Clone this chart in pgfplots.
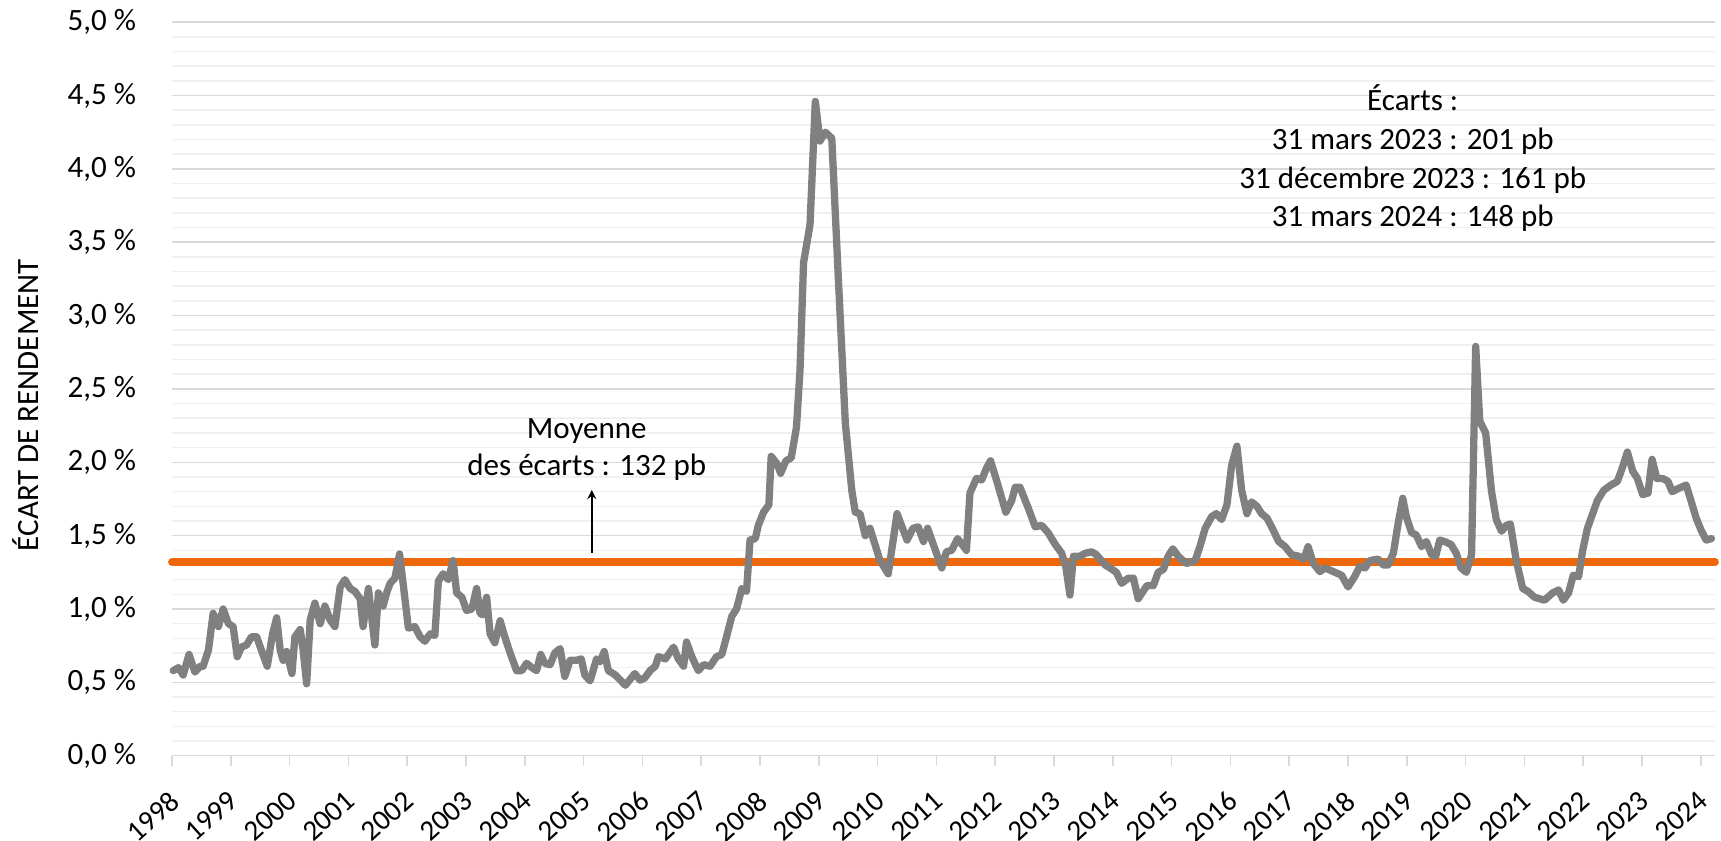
\documentclass[border=0pt]{standalone}
\usepackage{fontspec}
\setmainfont{Carlito}
\usepackage{pgfplots}
\pgfplotsset{compat=1.18}
\definecolor{seriesgray}{RGB}{128,128,128}
\definecolor{avgorange}{RGB}{236,104,10}
\definecolor{majgrid}{RGB}{217,217,217}
\definecolor{mingrid}{RGB}{240,240,240}
\begin{document}
\begin{tikzpicture}
\path[use as bounding box] (-86pt,-42.65pt) rectangle (774.5pt,377.85pt);
\begin{axis}[
  at={(0,0)}, anchor=south west,
  scale only axis,
  width=771.5pt, height=366.75pt,
  xmin=1998, xmax=2024.24,
  ymin=0, ymax=5,
  clip=false,
  axis x line*=bottom, axis y line*=left,
  x axis line style={draw=majgrid, line width=0.8pt, -},
  y axis line style={draw=none},
  xtick={1998,1999,...,2024},
  ytick={0,0.5,...,5},
  minor y tick num=4,
  ymajorgrids, yminorgrids,
  major grid style={draw=majgrid, line width=0.8pt},
  minor grid style={draw=mingrid, line width=0.8pt},
  xtick style={draw=majgrid, line width=0.8pt},
  ytick style={draw=none},
  minor y tick style={draw=none},
  tick align=outside,
  major tick length=5pt,
  /pgf/number format/assume math mode=true,
  /pgf/number format/1000 sep={},
  tick label style={font=\fontsize{15.5}{18}\selectfont, text=black},
  xticklabel style={rotate=42, anchor=north east, xshift=-6pt, yshift=-3.9pt, font=\fontsize{14.5}{17}\selectfont},
  yticklabel style={xshift=-9.5pt},
  yticklabel={\pgfmathprintnumber[fixed,fixed zerofill,precision=1,use comma]{\tick}~\%},
]
\addplot[avgorange, line width=3.9pt, line cap=round] coordinates {(1998,1.32) (2024.24,1.32)};
\addplot[seriesgray, line width=3.65pt, line join=round, line cap=round] coordinates {
(1998.02,0.58) (1998.11,0.60) (1998.19,0.55) (1998.29,0.69) (1998.39,0.57) (1998.48,0.61) (1998.53,0.61) (1998.62,0.72) (1998.70,0.97) (1998.79,0.88) (1998.87,1.00) (1998.96,0.90)
(1999.04,0.88) (1999.11,0.675) (1999.18,0.74) (1999.27,0.755) (1999.35,0.81) (1999.44,0.81) (1999.52,0.72) (1999.62,0.61) (1999.71,0.83) (1999.78,0.94) (1999.84,0.72) (1999.89,0.65) (1999.95,0.71)
(2000.04,0.56) (2000.09,0.81) (2000.18,0.86) (2000.23,0.72) (2000.29,0.49) (2000.35,0.925) (2000.43,1.04) (2000.52,0.90) (2000.60,1.02) (2000.69,0.925) (2000.77,0.88) (2000.86,1.15) (2000.94,1.20)
(2001.03,1.14) (2001.11,1.12) (2001.20,1.07) (2001.25,0.88) (2001.34,1.14) (2001.45,0.755) (2001.51,1.11) (2001.59,1.02) (2001.65,1.11) (2001.71,1.175) (2001.79,1.21) (2001.87,1.375) (2001.93,1.175)
(2002.02,0.87) (2002.13,0.88) (2002.22,0.81) (2002.30,0.78) (2002.39,0.83) (2002.47,0.82) (2002.53,1.19) (2002.61,1.24) (2002.70,1.20) (2002.78,1.33) (2002.84,1.11) (2002.93,1.08)
(2003.01,0.99) (2003.10,1.00) (2003.18,1.14) (2003.24,0.97) (2003.29,0.96) (2003.35,1.08) (2003.41,0.83) (2003.49,0.77) (2003.58,0.92) (2003.66,0.81) (2003.75,0.70) (2003.86,0.58) (2003.95,0.58)
(2004.03,0.63) (2004.12,0.60) (2004.20,0.58) (2004.27,0.69) (2004.34,0.63) (2004.43,0.62) (2004.51,0.70) (2004.60,0.73) (2004.68,0.54) (2004.77,0.65) (2004.88,0.65) (2004.96,0.66)
(2005.02,0.55) (2005.11,0.51) (2005.22,0.66) (2005.28,0.64) (2005.35,0.71) (2005.42,0.58) (2005.54,0.55) (2005.71,0.48) (2005.87,0.56) (2005.96,0.515)
(2006.04,0.53) (2006.13,0.58) (2006.22,0.61) (2006.27,0.675) (2006.39,0.66) (2006.53,0.74) (2006.61,0.66) (2006.70,0.61) (2006.75,0.775) (2006.84,0.675) (2006.95,0.58)
(2007.04,0.62) (2007.15,0.61) (2007.26,0.675) (2007.35,0.69) (2007.43,0.81) (2007.52,0.95) (2007.60,1.00) (2007.69,1.14) (2007.77,1.12) (2007.83,1.47) (2007.92,1.48) (2007.97,1.57)
(2008.06,1.66) (2008.15,1.71) (2008.19,2.04) (2008.29,1.99) (2008.35,1.925) (2008.44,2.01) (2008.53,2.03) (2008.62,2.24) (2008.68,2.63) (2008.74,3.36) (2008.85,3.62) (2008.94,4.46)
(2009.02,4.19) (2009.11,4.25) (2009.22,4.21) (2009.33,3.27) (2009.45,2.27) (2009.56,1.81) (2009.62,1.66) (2009.70,1.65) (2009.79,1.50) (2009.87,1.55)
(2010.04,1.33) (2010.18,1.24) (2010.33,1.65) (2010.50,1.47) (2010.60,1.55) (2010.69,1.56) (2010.78,1.46) (2010.85,1.55) (2010.96,1.425)
(2011.09,1.28) (2011.17,1.39) (2011.26,1.40) (2011.36,1.48) (2011.51,1.40) (2011.57,1.79) (2011.68,1.89) (2011.77,1.88) (2011.85,1.96) (2011.92,2.01)
(2012.02,1.88) (2012.18,1.66) (2012.28,1.74) (2012.34,1.83) (2012.42,1.83) (2012.56,1.69) (2012.68,1.56) (2012.79,1.57) (2012.90,1.52)
(2013.02,1.44) (2013.13,1.38) (2013.20,1.29) (2013.27,1.095) (2013.33,1.36) (2013.44,1.36) (2013.53,1.38) (2013.64,1.39) (2013.72,1.37) (2013.87,1.30) (2013.95,1.28)
(2014.06,1.25) (2014.15,1.175) (2014.26,1.21) (2014.35,1.21) (2014.43,1.07) (2014.58,1.16) (2014.69,1.16) (2014.77,1.25) (2014.86,1.27) (2014.94,1.36)
(2015.02,1.41) (2015.11,1.36) (2015.25,1.31) (2015.40,1.33) (2015.48,1.425) (2015.57,1.55) (2015.68,1.63) (2015.76,1.65) (2015.85,1.61) (2015.94,1.71)
(2016.02,1.98) (2016.11,2.11) (2016.19,1.81) (2016.28,1.65) (2016.36,1.73) (2016.45,1.70) (2016.53,1.65) (2016.62,1.62) (2016.70,1.56) (2016.82,1.46) (2016.93,1.425)
(2017.04,1.37) (2017.16,1.36) (2017.25,1.34) (2017.32,1.425) (2017.41,1.31) (2017.52,1.255) (2017.61,1.28) (2017.75,1.255) (2017.89,1.23)
(2018.00,1.15) (2018.11,1.22) (2018.20,1.29) (2018.29,1.28) (2018.37,1.33) (2018.51,1.34) (2018.60,1.30) (2018.68,1.30) (2018.77,1.38) (2018.85,1.58) (2018.93,1.755) (2018.99,1.63)
(2019.08,1.52) (2019.16,1.505) (2019.25,1.425) (2019.33,1.46) (2019.42,1.37) (2019.49,1.36) (2019.56,1.47) (2019.64,1.46) (2019.75,1.44) (2019.84,1.38) (2019.92,1.28)
(2020.01,1.25) (2020.10,1.37) (2020.17,2.79) (2020.24,2.28) (2020.34,2.20) (2020.44,1.80) (2020.52,1.61) (2020.61,1.53) (2020.69,1.57) (2020.76,1.58) (2020.86,1.33) (2020.97,1.14)
(2021.06,1.12) (2021.17,1.08) (2021.34,1.06) (2021.48,1.11) (2021.58,1.13) (2021.66,1.06) (2021.75,1.11) (2021.83,1.23) (2021.92,1.22) (2021.99,1.40)
(2022.07,1.55) (2022.16,1.65) (2022.24,1.74) (2022.35,1.81) (2022.47,1.845) (2022.58,1.87) (2022.67,1.97) (2022.75,2.07) (2022.84,1.94) (2022.92,1.89)
(2023.01,1.78) (2023.10,1.79) (2023.17,2.02) (2023.25,1.89) (2023.35,1.89) (2023.44,1.87) (2023.51,1.80) (2023.61,1.82) (2023.75,1.845) (2023.83,1.74) (2023.92,1.62)
(2024.00,1.54) (2024.09,1.47) (2024.18,1.48)
};
\begin{scope}[every node/.style={font=\fontsize{15.5}{18}\selectfont, anchor=base, inner sep=0pt}]
\node at (axis cs:2005.053,2.164) {Moyenne};
\node at (axis cs:2005.053,1.909) {des écarts : 132 pb};
\node at (axis cs:2019.10,4.397) {Écarts :};
\node at (axis cs:2019.10,4.134) {31 mars 2023 : 201 pb};
\node at (axis cs:2019.10,3.868) {31 décembre 2023 : 161 pb};
\node at (axis cs:2019.10,3.606) {31 mars 2024 : 148 pb};
\end{scope}
\node[rotate=90, anchor=center, inner sep=0pt, font=\fontsize{15.5}{18}\selectfont] at ([xshift=-73pt]rel axis cs:0,0.478) {ÉCART DE RENDEMENT};
\draw[-stealth, line width=1pt, black] (axis cs:2005.14,1.384) -- (axis cs:2005.14,1.811);
\end{axis}
\end{tikzpicture}
\end{document}
